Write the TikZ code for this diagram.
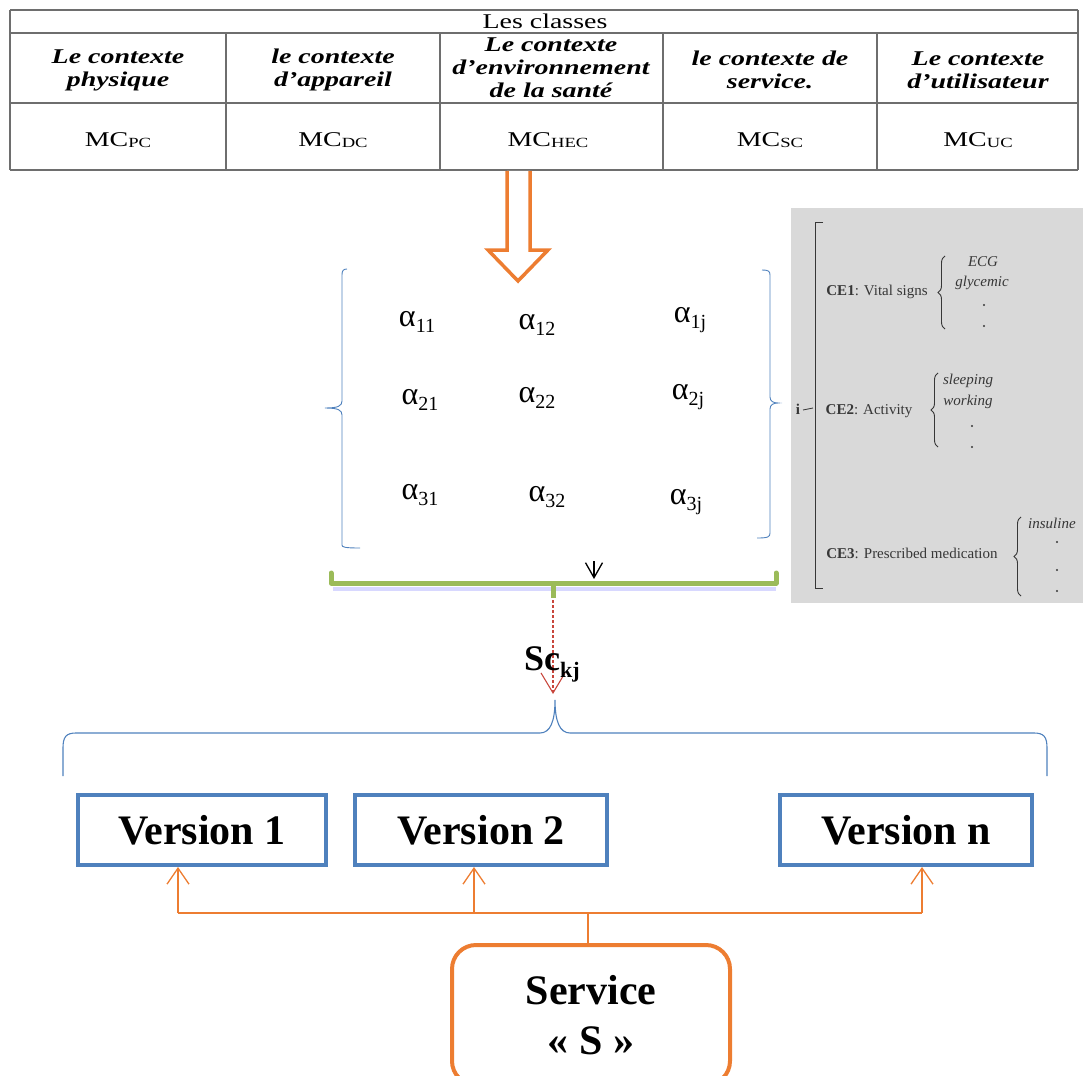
\documentclass[tikz,border=0pt]{standalone}
\usepackage{graphicx}
\usepackage{fontspec}
\setmainfont{Liberation Serif}
\usetikzlibrary{arrows.meta,decorations.pathreplacing,calc}

\definecolor{tabgray}{RGB}{110,110,110}
\definecolor{accorange}{RGB}{237,125,49}
\definecolor{accblue}{RGB}{79,129,189}
\definecolor{accgreen}{RGB}{155,187,89}
\definecolor{accred}{RGB}{200,70,60}
\definecolor{panelgray}{RGB}{217,217,217}
\definecolor{paneltxt}{RGB}{55,55,55}

% horizontally widened text, as set in the class table
\newcommand{\hstr}[1]{\scalebox{1.33}[1]{#1}}
% alpha coefficient with a lowered index
\newcommand{\coef}[1]{α\raisebox{-6pt}{\fontsize{20}{20}\selectfont #1}}
% context-class label with a small index
\newcommand{\mcl}[1]{\hstr{MC\raisebox{-1.5pt}{\fontsize{14}{14}\selectfont #1}}}

\begin{document}
\begin{tikzpicture}[x=1pt,y=-1pt,
  tabrule/.style={draw=tabgray,line width=2.6pt},
  hdr/.style={font=\fontsize{21}{23}\selectfont\bfseries\itshape,align=center,inner sep=0pt},
  plain/.style={font=\fontsize{21}{23}\selectfont,inner sep=0pt},
  coefnode/.style={font=\fontsize{32}{32}\selectfont,inner sep=0pt},
  paneltext/.style={font=\fontsize{15}{17}\selectfont,text=paneltxt,inner sep=0pt},
  panelitem/.style={font=\fontsize{15}{17}\selectfont\itshape,text=paneltxt,inner sep=0pt},
  panelbrace/.style={draw=paneltxt,line width=0.9pt,decorate,decoration={brace,amplitude=7pt}},
  versionbox/.style={draw=accblue,line width=4pt,fill=white,minimum height=70pt,
    font=\fontsize{42}{46}\selectfont\bfseries,inner sep=0pt},
  orangelink/.style={draw=accorange,line width=1.3pt},
  orangetip/.style={-{Straight Barb[length=16pt,width=22pt,line width=1.3pt]}},
  bluebrace/.style={draw=accblue,line width=1.1pt},
]
\useasboundingbox (0,0) rectangle (1083,1075);

% ---------- class table ----------
\draw[tabrule] (10,10) -- (1078,10);
\draw[tabrule] (10,33) -- (1078,33);
\draw[tabrule] (10,103) -- (1078,103);
\draw[tabrule] (10,170) -- (1078,170);
\draw[tabrule] (10,10) -- (10,170);
\draw[tabrule] (1078,10) -- (1078,170);
\foreach \cx in {226,440,663,877} \draw[tabrule] (\cx,33) -- (\cx,170);

\node[plain] (classes) at (545,21) {\hstr{Les classes}};
\node[hdr] (hpc) at (118,70) {\hstr{Le contexte}\\\hstr{physique}};
\node[hdr] (hdc) at (333,70) {\hstr{le contexte}\\\hstr{d’appareil}};
\node[hdr] (hhec) at (551,68) {\hstr{Le contexte}\\\hstr{d’environnement}\\\hstr{de la santé}};
\node[hdr] (hsc) at (770,70) {\hstr{le contexte de}\\\hstr{service.}};
\node[hdr] (huc) at (978,70) {\hstr{Le contexte}\\\hstr{d’utilisateur}};

\node[plain] (mpc) at (118,140) {\mcl{PC}};
\node[plain] (mdc) at (333,140) {\mcl{DC}};
\node[plain] (mhec) at (548,140) {\mcl{HEC}};
\node[plain] (msc) at (770,140) {\mcl{SC}};
\node[plain] (muc) at (978,140) {\mcl{UC}};

% ---------- hollow block arrow ----------
\draw[accorange,line width=3.5pt,line join=miter,fill=white]
  (507,171) -- (507,250) -- (488,250) -- (518,281) -- (548,250) -- (530,250) -- (530,171);

% ---------- coefficient matrix ----------
\draw[bluebrace,line width=0.9pt]
  (347,269) .. controls (343,269) and (342,271) .. (342,275) -- (342,401)
  .. controls (342,406) and (338,408) .. (325,408)
  .. controls (338,408) and (342,410) .. (342,415) -- (342,545)
  .. controls (342,547) and (344,548) .. (360,548);
\draw[bluebrace,line width=0.9pt]
  (762,270) .. controls (768,270) and (770,271) .. (770,275) -- (770,397)
  .. controls (770,401) and (773,403) .. (778,403)
  .. controls (773,403) and (770,405) .. (770,409) -- (770,533)
  .. controls (770,537) and (768,538) .. (757,538);

\node[coefnode] (a11) at (417,322) {\coef{11}};
\node[coefnode] (a12) at (537,325) {\coef{12}};
\node[coefnode] (a1j) at (690,320) {\coef{1j}};
\node[coefnode] (a21) at (420,400) {\coef{21}};
\node[coefnode] (a22) at (537,398) {\coef{22}};
\node[coefnode] (a2j) at (688,397) {\coef{2j}};
\node[coefnode] (a31) at (420,495) {\coef{31}};
\node[coefnode] (a32) at (547,497) {\coef{32}};
\node[coefnode] (a3j) at (686,502) {\coef{3j}};

% ---------- context panel ----------
\fill[panelgray] (791,208) rectangle (1083,603);
\draw[paneltxt,line width=0.9pt] (823,222) -- (815,222) -- (815,588) -- (823,588);
\node[paneltext,font=\fontsize{15}{17}\selectfont\bfseries] (ilab) at (798,409) {i};
\draw[paneltxt,line width=0.8pt] (803,410) -- (813,408);

\node[paneltext] (ce1) at (877,292) {\textbf{CE1}: Vital signs};
\draw[panelbrace] (945,329) -- (945,256);
\node[panelitem] (ecg) at (983,262) {ECG};
\node[panelitem] (gly) at (982,283) {glycemic};
\fill[paneltxt] (984,305) circle (1.2) (984,326) circle (1.2);

\node[paneltext] (ce2) at (869,411) {\textbf{CE2}: Activity};
\draw[panelbrace] (938,447) -- (938,373);
\node[panelitem] (slp) at (968,381) {sleeping};
\node[panelitem] (wrk) at (968,402) {working};
\fill[paneltxt] (972,426) circle (1.2) (972,447) circle (1.2);

\node[paneltext] (ce3) at (912,553) {\textbf{CE3}: Prescribed medication};
\draw[panelbrace] (1021,596) -- (1021,517);
\node[panelitem,anchor=west] (ins) at (1028,523) {insuline};
\fill[paneltxt] (1057,542) circle (1.2) (1057,570) circle (1.2) (1057,591) circle (1.2);

% ---------- green brace with stem ----------
\draw[blue!30,opacity=0.5,line width=4pt] (333,589) -- (776,589);
\draw[accgreen,line width=5pt,line cap=round,line join=round]
  (331,573) -- (331,583) -- (776,583) -- (776,573);
\draw[accgreen,line width=5pt] (553,583) -- (553,598);
\coordinate (gstem) at (553,600);

% small black tip above the brace
\coordinate (vtop) at (594,561);
\coordinate (vbot) at (594,579);
\draw[black,line width=1.3pt,-{Straight Barb[length=15pt,width=17pt,line width=1.3pt]}] (vtop) -- (vbot);

% ---------- Sc_kj ----------
\coordinate (sctip) at (553,694);
\draw[accred,line width=1.3pt,dash pattern=on 3pt off 2pt,
  -{Straight Barb[length=20pt,width=24pt,line width=1.1pt]}] (gstem) -- (sctip);
\node[inner sep=0pt,font=\fontsize{36}{36}\selectfont\bfseries] (sc) at (552,664)
  {Sc\raisebox{-7pt}{\fontsize{22}{22}\selectfont\bfseries kj}};

% ---------- versions brace ----------
\draw[bluebrace]
  (63,776) -- (63,748) .. controls (63,737) and (66,733) .. (76,733) -- (540,733)
  .. controls (550,733) and (555,722) .. (555,700)
  .. controls (555,722) and (560,733) .. (570,733) -- (1034,733)
  .. controls (1044,733) and (1047,737) .. (1047,748) -- (1047,776);

% ---------- versions ----------
\node[versionbox,minimum width=248pt] (v1) at (202,830) {Version 1};
\node[versionbox,minimum width=252pt] (v2) at (481,830) {Version 2};
\node[versionbox,minimum width=252pt] (vn) at (906,830) {Version n};

% ---------- service ----------
\node[draw=accorange,line width=4pt,rounded corners=24pt,minimum width=278pt,
  minimum height=140pt,align=center,inner sep=0pt,
  font=\fontsize{42}{50}\selectfont\bfseries] (svc) at (591,1015) {Service\\« S »};

\coordinate (bus) at (588,913);
\coordinate (b1) at (178,913);
\coordinate (b2) at (474,913);
\coordinate (bn) at (922,913);
\draw[orangelink] (svc.north -| bus) -- (bus);
\draw[orangelink] (b1) -- (bn);
\draw[orangelink,orangetip] (b1) -- (b1 |- v1.south);
\draw[orangelink,orangetip] (b2) -- (b2 |- v2.south);
\draw[orangelink,orangetip] (bn) -- (bn |- vn.south);
\end{tikzpicture}
\end{document}
